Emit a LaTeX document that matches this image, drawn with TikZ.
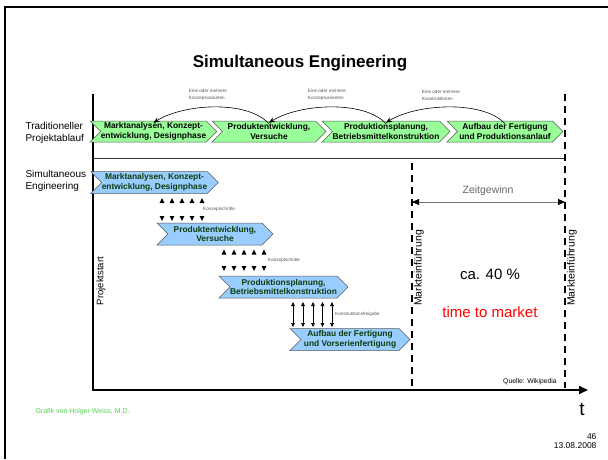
\documentclass[tikz,border=0pt]{standalone}
\usepackage{fontspec}
\setmainfont{Liberation Sans}
\usetikzlibrary{shapes.symbols,arrows.meta}
\definecolor{tradgreen}{HTML}{99FF99}
\definecolor{seblue}{HTML}{99CCFF}
\definecolor{setext}{HTML}{0B3D0B}
\definecolor{notegray}{HTML}{555555}
\definecolor{footgreen}{HTML}{55D055}
\begin{document}
\begin{tikzpicture}[x=1pt,y=-1pt,
  phase/.style={signal, signal to=east, signal from=west, signal pointer angle=90,
    draw=black!65, line width=0.5pt, inner sep=0pt, align=center,
    font=\fontsize{8.4}{9.8}\selectfont\bfseries},
  tradphase/.style={phase, fill=tradgreen, minimum height=21pt},
  sephase/.style={phase, fill=seblue, text=setext, minimum height=22pt},
  rowlabel/.style={anchor=west, align=left, font=\fontsize{10}{12}\selectfont},
  tiny/.style={font=\fontsize{4.6}{7}\selectfont, text=notegray, align=left, inner sep=0pt},
  axis/.style={line width=1.5pt},
  milestone/.style={line width=1.2pt, dash pattern=on 7pt off 5pt},
  feedback/.style={line width=0.6pt, -{Stealth[length=6pt,width=5pt]}},
  handover/.style={line width=0.6pt, {Triangle[length=4pt,width=3.6pt]}-{Triangle[length=4pt,width=3.6pt]}},
  vlabel/.style={rotate=90, font=\fontsize{10.5}{12}\selectfont}
]
\useasboundingbox (0,0) rectangle (608,459);

% slide frame
\draw[line width=2pt] (608,7) -- (5,7) -- (5,459);

% title
\node[font=\fontsize{17}{20}\selectfont\bfseries] (title) at (300,63) {Simultaneous Engineering};

% row captions
\node[rowlabel] (tradlbl) at (22,133) {Traditioneller\\Projektablauf};
\node[rowlabel] (selbl) at (22,181) {Simultaneous\\Engineering};

% time axis
\coordinate (ytop) at (93,94);
\coordinate (orig) at (93,390);
\coordinate (xend) at (588,390);
\draw[axis, -{Triangle[length=9pt,width=8pt]}] (ytop) -- (orig) -- (xend);
\node[font=\fontsize{19}{20}\selectfont] (tlbl) at (582,409) {t};

% separator below the traditional row
\coordinate (sepL) at (93,158);
\coordinate (sepR) at (565,158);
\draw[line width=0.8pt, black!80] (sepL) -- (sepR);

% market launch lines
\coordinate (m1top) at (412,163);
\coordinate (m1bot) at (412,388);
\coordinate (m2top) at (565,94);
\coordinate (m2bot) at (565,388);
\draw[milestone] (m1top) -- (m1bot);
\draw[milestone] (m2top) -- (m2bot);
\node[vlabel] (mk1) at (419,268) {Markteinführung};
\node[vlabel] (mk2) at (572,268) {Markteinführung};
\node[rotate=90, font=\fontsize{9.5}{11}\selectfont] (pstart) at (101,281) {Projektstart};

% time gained
\coordinate (zgL) at (412,202);
\coordinate (zgR) at (565,202);
\draw[line width=0.9pt, black!55, {Triangle[length=7pt,width=6pt,black]}-{Triangle[length=7pt,width=6pt,black]}] (zgL) -- (zgR);
\node[font=\fontsize{10.5}{12}\selectfont, text=black!60] (zg) at (488,191) {Zeitgewinn};
\node[font=\fontsize{15}{18}\selectfont] (pct) at (490,274) {ca. 40 \%};
\node[font=\fontsize{15}{18}\selectfont, text=red] (ttm) at (490,312) {time to market};

% traditional sequence
\node[tradphase, minimum width=119pt] (t1) at (153.5,131.5) {Marktanalysen, Konzept-\\entwicklung, Designphase};
\node[tradphase, minimum width=114pt] (t2) at (269,131.5) {Produktentwicklung,\\Versuche};
\node[tradphase, minimum width=118pt] (t3) at (386,131.5) {Produktionsplanung,\\Betriebsmittelkonstruktion};
\node[tradphase, minimum width=116pt] (t4) at (505,131.5) {Aufbau der Fertigung\\und Produktionsanlauf};

% feedback loops of the traditional sequence
\draw[feedback] ([yshift=-3pt]t2.north) .. controls +(-22,-24) and +(30,-19) .. ([yshift=-2pt]t1.north);
\draw[feedback] ([yshift=-3pt]t3.north) .. controls +(-22,-24) and +(30,-19) .. ([yshift=-2pt]t2.north);
\draw[feedback] ([yshift=-3pt]t4.north) .. controls +(-22,-24) and +(30,-19) .. ([yshift=-2pt]t3.north);
\node[tiny] (f1) at (208,95) {Eine oder mehrere\\Konzeptvarianten};
\node[tiny] (f2) at (327,95) {Eine oder mehrere\\Konzeptvarianten};
\node[tiny] (f3) at (441,95) {Eine oder mehrere\\Konstruktionen};

% simultaneous sequence
\node[sephase, minimum width=117pt] (s1) at (154.5,182.5) {Marktanalysen, Konzept-\\entwicklung, Designphase};
\node[sephase, minimum width=116pt] (s2) at (215,234) {Produktentwicklung,\\Versuche};
\node[sephase, minimum width=119pt] (s3) at (283.5,287) {Produktionsplanung,\\Betriebsmittelkonstruktion};
\node[sephase, minimum width=120pt] (s4) at (350,339.5) {Aufbau der Fertigung\\und Vorserienfertigung};

% information exchange marks
\foreach \x in {162,172,182,192,202}{
  \fill (\x-2.4,203) -- (\x+2.4,203) -- (\x,198) -- cycle;
  \fill (\x-2.4,216) -- (\x+2.4,216) -- (\x,221) -- cycle;
}
\foreach \x in {224,234,244,254,264}{
  \fill (\x-2.4,254.5) -- (\x+2.4,254.5) -- (\x,249.5) -- cycle;
  \fill (\x-2.4,266) -- (\x+2.4,266) -- (\x,271) -- cycle;
}
\foreach \x in {293,303,313,322.5,332}{
  \draw[handover] (\x,302) -- (\x,327);
}
\node[tiny, anchor=west] (e1) at (203,209) {Konzeptschritte};
\node[tiny, anchor=west] (e2) at (268,260) {Konzeptschritte};
\node[tiny, anchor=west] (e3) at (335,314) {Konstruktionsfreigabe};

% source and footer
\node[font=\fontsize{6.8}{8}\selectfont] (src) at (530,382) {Quelle: Wikipedia};
\node[anchor=west, font=\fontsize{7}{8}\selectfont, text=footgreen] (foot) at (32,412) {Grafik von Holger Weiss, M.D.};
\node[anchor=east, align=right, font=\fontsize{8.5}{9.5}\selectfont] (pg) at (600,441) {46\\13.08.2008};
\end{tikzpicture}
\end{document}
